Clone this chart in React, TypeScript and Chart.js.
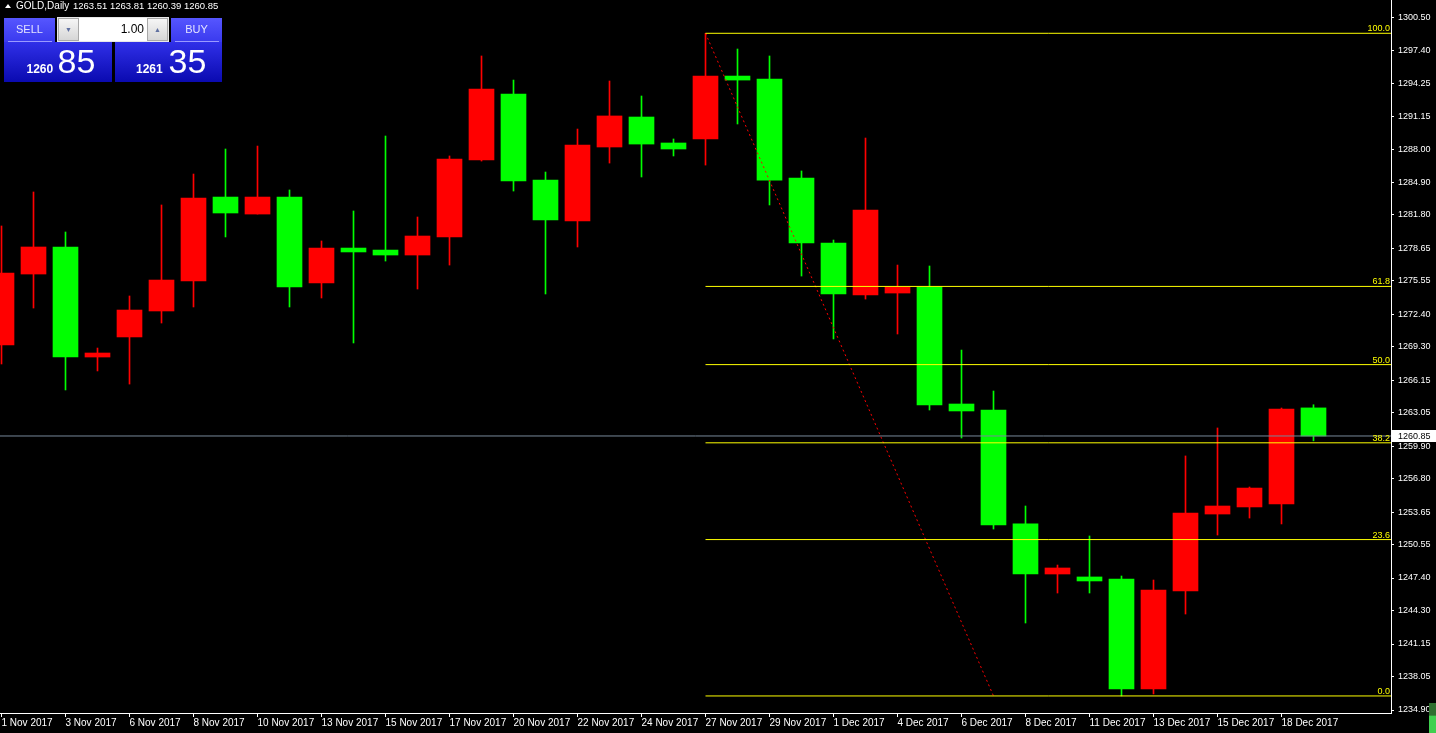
import React, { useEffect, useRef } from 'react';
import { Chart, registerables } from 'chart.js';
Chart.register(...registerables);

// ---- data ----
const barDates = ['1 Nov 2017', '2 Nov 2017', '3 Nov 2017', '5 Nov 2017', '6 Nov 2017', '7 Nov 2017', '8 Nov 2017', '9 Nov 2017', '10 Nov 2017', '12 Nov 2017', '13 Nov 2017', '14 Nov 2017', '15 Nov 2017', '16 Nov 2017', '17 Nov 2017', '19 Nov 2017', '20 Nov 2017', '21 Nov 2017', '22 Nov 2017', '23 Nov 2017', '24 Nov 2017', '26 Nov 2017', '27 Nov 2017', '28 Nov 2017', '29 Nov 2017', '30 Nov 2017', '1 Dec 2017', '3 Dec 2017', '4 Dec 2017', '5 Dec 2017', '6 Dec 2017', '7 Dec 2017', '8 Dec 2017', '10 Dec 2017', '11 Dec 2017', '12 Dec 2017', '13 Dec 2017', '14 Dec 2017', '15 Dec 2017', '17 Dec 2017', '18 Dec 2017', '19 Dec 2017'];

const opens = [1269.47, 1276.19, 1278.75, 1268.33, 1270.23, 1272.69, 1275.53, 1283.48, 1281.87, 1283.48, 1275.34, 1278.65, 1278.46, 1277.99, 1279.70, 1286.99, 1293.24, 1285.09, 1281.21, 1288.22, 1291.06, 1288.60, 1288.98, 1294.94, 1294.66, 1285.28, 1279.13, 1274.20, 1274.39, 1274.96, 1263.88, 1263.31, 1252.52, 1247.78, 1247.50, 1247.31, 1236.89, 1246.17, 1253.46, 1254.13, 1254.41, 1263.51];
const highs = [1280.74, 1283.96, 1280.17, 1269.18, 1274.11, 1282.73, 1285.66, 1288.03, 1288.31, 1284.15, 1279.32, 1282.16, 1289.26, 1281.59, 1287.37, 1296.84, 1294.56, 1285.85, 1289.92, 1294.47, 1293.05, 1288.98, 1298.99, 1297.50, 1296.84, 1285.95, 1279.41, 1289.07, 1277.04, 1276.95, 1268.99, 1265.11, 1254.22, 1248.63, 1251.38, 1247.59, 1247.21, 1258.96, 1261.61, 1256.02, 1263.50, 1263.81];
const lows = [1267.67, 1272.97, 1265.21, 1267.01, 1265.77, 1271.55, 1273.07, 1279.70, 1281.87, 1273.07, 1273.92, 1269.66, 1277.42, 1274.77, 1277.04, 1286.89, 1284.05, 1274.30, 1278.75, 1286.70, 1285.38, 1287.37, 1286.51, 1290.40, 1282.73, 1276.00, 1270.04, 1273.82, 1270.51, 1263.31, 1260.66, 1252.04, 1243.14, 1245.98, 1245.98, 1236.23, 1236.42, 1243.99, 1251.47, 1253.08, 1252.52, 1260.39];
const closes = [1276.29, 1278.75, 1268.33, 1268.71, 1272.78, 1275.62, 1283.39, 1281.97, 1283.48, 1274.96, 1278.65, 1278.28, 1277.99, 1279.79, 1287.08, 1293.71, 1285.00, 1281.31, 1288.41, 1291.16, 1288.50, 1288.03, 1294.94, 1294.56, 1285.09, 1279.13, 1274.30, 1282.25, 1274.96, 1263.79, 1263.22, 1252.42, 1247.78, 1248.35, 1247.12, 1236.89, 1246.26, 1253.56, 1254.22, 1255.92, 1263.41, 1260.85];

const priceTicks = [1234.90, 1238.05, 1241.15, 1244.30, 1247.40, 1250.55, 1253.65, 1256.80, 1259.90, 1263.05, 1266.15, 1269.30, 1272.40, 1275.55, 1278.65, 1281.80, 1284.90, 1288.00, 1291.15, 1294.25, 1297.40, 1300.50];

const fibLevels = [0, 23.6, 38.2, 50.0, 61.8, 100.0];
const fibHigh = 1298.99; // 27 Nov high
const fibHighIdx = 22;
const fibLow = 1236.23;
const fibLowIdx = 31;

const bidPrice = 1260.85;
const askPrice = 1261.35;
const lotSize = '1.00';

const Y_MIN = 1234.616;
const Y_MAX = 1302.142;
const X_MIN = -0.046875;
const X_MAX = 43.421875;

const UP = '#ff0000';
const DOWN = '#00ff00';

const fibPrice = (l: number) => fibLow + (fibHigh - fibLow) * l / 100;

const overlayPlugin = {
  id: 'mtOverlay',
  afterDraw(chart: any) {
    const { ctx, chartArea, scales } = chart;
    const y = scales.y;
    ctx.save();
    ctx.font = '9px "Liberation Sans", Arial, sans-serif';
    ctx.fillStyle = '#ffff00';
    ctx.textAlign = 'right';
    ctx.textBaseline = 'alphabetic';
    fibLevels.forEach((l) => {
      const py = Math.round(y.getPixelForValue(fibPrice(l)));
      ctx.fillText(l.toFixed(1), chartArea.right - 1, py - 2);
    });
    const py = Math.round(y.getPixelForValue(bidPrice));
    ctx.fillStyle = '#ffffff';
    ctx.fillRect(chartArea.right + 1, py - 6, 46, 12);
    ctx.fillStyle = '#000000';
    ctx.textAlign = 'left';
    ctx.textBaseline = 'middle';
    ctx.fillText(bidPrice.toFixed(2), chartArea.right + 7, py + 0.5);
    ctx.restore();
  },
};

export default function App() {
  const ref = useRef<HTMLCanvasElement | null>(null);

  useEffect(() => {
    document.body.style.margin = '0';
    document.body.style.background = '#000';
    const canvas = ref.current;
    if (!canvas) return;

    const colors = closes.map((c, i) => (c > opens[i] ? UP : DOWN));
    const bodies = opens.map((o, i) => ({ x: i, y: [o, closes[i]] }));
    const wicks = lows.map((l, i) => ({ x: i, y: [l, highs[i]] }));

    const fibSets = fibLevels.map((l) => ({
      type: 'line' as const,
      data: [{ x: fibHighIdx, y: fibPrice(l) }, { x: X_MAX, y: fibPrice(l) }],
      borderColor: '#ffff00',
      borderWidth: 1,
      pointRadius: 0,
      order: 0,
    }));

    const chart = new Chart(canvas, {
      type: 'bar',
      data: {
        datasets: [
          ...fibSets,
          {
            type: 'line' as const,
            data: [{ x: fibHighIdx, y: fibHigh }, { x: fibLowIdx, y: fibLow }],
            borderColor: '#ff0000',
            borderWidth: 1,
            borderDash: [2, 3],
            pointRadius: 0,
            order: 0,
          },
          {
            type: 'line' as const,
            data: [{ x: X_MIN, y: bidPrice }, { x: X_MAX, y: bidPrice }],
            borderColor: '#778899',
            borderWidth: 1,
            pointRadius: 0,
            order: 0,
          },
          {
            type: 'bar' as const,
            data: bodies as any,
            backgroundColor: colors,
            borderWidth: 0,
            barThickness: 25,
            grouped: false,
            minBarLength: 1,
            order: 1,
          },
          {
            type: 'bar' as const,
            data: wicks as any,
            backgroundColor: colors,
            borderWidth: 0,
            barThickness: 1,
            grouped: false,
            order: 2,
          },
        ],
      },
      options: {
        responsive: false,
        animation: false,
        devicePixelRatio: 1,
        layout: { padding: 0 },
        plugins: { legend: { display: false }, tooltip: { enabled: false } },
        scales: {
          x: {
            type: 'linear',
            min: X_MIN,
            max: X_MAX,
            offset: false,
            bounds: 'data',
            position: 'bottom',
            grid: { display: true, drawOnChartArea: false, drawTicks: true, tickLength: 4, color: '#ffffff', offset: false },
            border: { display: true, color: '#ffffff' },
            ticks: {
              color: '#ffffff',
              font: { family: '"Liberation Sans", Arial, sans-serif', size: 10 },
              align: 'start',
              autoSkip: false,
              maxRotation: 0,
              minRotation: 0,
              padding: 0,
              callback: (v: any) => barDates[Number(v)] ?? '',
            },
            afterBuildTicks: (s: any) => {
              s.ticks = barDates.map((_, i) => i).filter((i) => i % 2 === 0).map((i) => ({ value: i }));
            },
            afterFit: (s: any) => {
              s.height = 20;
              s.paddingLeft = 0; s.paddingRight = 0; s.paddingTop = 0; s.paddingBottom = 0;
            },
          },
          y: {
            type: 'linear',
            min: Y_MIN,
            max: Y_MAX,
            bounds: 'data',
            position: 'right',
            grid: { display: true, drawOnChartArea: false, drawTicks: true, tickLength: 3, color: '#ffffff' },
            border: { display: true, color: '#ffffff' },
            ticks: {
              color: '#ffffff',
              font: { family: '"Liberation Sans", Arial, sans-serif', size: 9 },
              padding: 4,
              autoSkip: false,
              callback: (v: any) => Number(v).toFixed(2),
            },
            afterBuildTicks: (s: any) => {
              s.ticks = priceTicks.map((v) => ({ value: v }));
            },
            afterFit: (s: any) => {
              s.width = 45;
              s.paddingLeft = 0; s.paddingRight = 0; s.paddingTop = 0; s.paddingBottom = 0;
            },
          },
        },
      } as any,
      plugins: [overlayPlugin],
    });
    return () => chart.destroy();
  }, []);

  const bidStr = bidPrice.toFixed(2);
  const askStr = askPrice.toFixed(2);
  const bidBig = bidStr.slice(0, 4);
  const bidSmall = bidStr.slice(5);
  const askBig = askStr.slice(0, 4);
  const askSmall = askStr.slice(5);

  const font = '"Liberation Sans", Arial, sans-serif';
  const btn: React.CSSProperties = {
    position: 'absolute', top: 18, width: 51, height: 24,
    background: 'linear-gradient(#5656ff, #3a3aee)', color: '#e4e4ff',
    font: `11px ${font}`, textAlign: 'center', lineHeight: '23px',
  };
  const box: React.CSSProperties = {
    position: 'absolute', top: 42, height: 40,
    background: 'linear-gradient(#3030e8, #0a0ab0)',
  };
  const arrowBtn: React.CSSProperties = {
    position: 'absolute', top: 18, width: 21, height: 23, boxSizing: 'border-box',
    background: 'linear-gradient(#f6f6f6, #d6d6d6)', border: '1px solid #a8a8a8',
    color: '#6070a0', font: `7px ${font}`, textAlign: 'center', lineHeight: '21px',
  };

  return (
    <div style={{ position: 'fixed', left: 0, top: 0, width: 1436, height: 733, background: '#000', overflow: 'hidden' }}>
      <canvas ref={ref} width={1436} height={733} style={{ position: 'absolute', left: 0, top: 0 }} />
      {/* header */}
      <div style={{ position: 'absolute', left: 5, top: 4, width: 0, height: 0, borderLeft: '3px solid transparent', borderRight: '3px solid transparent', borderBottom: '4px solid #fff' }} />
      <div style={{ position: 'absolute', left: 16, top: 0, color: '#fff', font: `10px ${font}`, lineHeight: '12px', whiteSpace: 'pre' }}>GOLD,Daily</div>
      <div style={{ position: 'absolute', left: 73, top: 0, color: '#fff', font: `9.5px ${font}`, lineHeight: '12px', whiteSpace: 'pre' }}>
        {`${opens[41].toFixed(2)} ${highs[41].toFixed(2)} ${lows[41].toFixed(2)} ${closes[41].toFixed(2)}`}
      </div>
      {/* one-click panel */}
      <div style={{ ...btn, left: 4 }}>SELL</div>
      <div style={{ position: 'absolute', left: 8, top: 41, width: 44, height: 1, background: '#9a9aff' }} />
      <div style={{ position: 'absolute', left: 57, top: 17, width: 112, height: 25, background: '#e8e8e8' }} />
      <div style={{ ...arrowBtn, left: 58 }}>▼</div>
      <div style={{ position: 'absolute', left: 79, top: 18, width: 68, height: 23, background: '#fff', color: '#000', font: `12px ${font}`, lineHeight: '23px', textAlign: 'right', paddingRight: 3, boxSizing: 'border-box' }}>{lotSize}</div>
      <div style={{ ...arrowBtn, left: 147 }}>▲</div>
      <div style={{ ...btn, left: 171 }}>BUY</div>
      <div style={{ position: 'absolute', left: 175, top: 41, width: 44, height: 1, background: '#9a9aff' }} />
      <div style={{ ...box, left: 4, width: 108 }} />
      <div style={{ ...box, left: 115, width: 107 }} />
      <div style={{ position: 'absolute', left: 26.5, top: 62.8, color: '#fff', font: `bold 12px ${font}`, lineHeight: '12px' }}>{bidBig}</div>
      <div style={{ position: 'absolute', left: 57.5, top: 44.2, color: '#fff', font: `34px ${font}`, lineHeight: '34px' }}>{bidSmall}</div>
      <div style={{ position: 'absolute', left: 136, top: 62.8, color: '#fff', font: `bold 12px ${font}`, lineHeight: '12px' }}>{askBig}</div>
      <div style={{ position: 'absolute', left: 168.5, top: 44.2, color: '#fff', font: `34px ${font}`, lineHeight: '34px' }}>{askSmall}</div>
      {/* bottom-right indicator */}
      <div style={{ position: 'absolute', left: 1429, top: 703, width: 7, height: 30, background: 'linear-gradient(#2f6f2f 0%, #2f6f2f 40%, #3fd04f 45%, #3fd04f 100%)' }} />
    </div>
  );
}
